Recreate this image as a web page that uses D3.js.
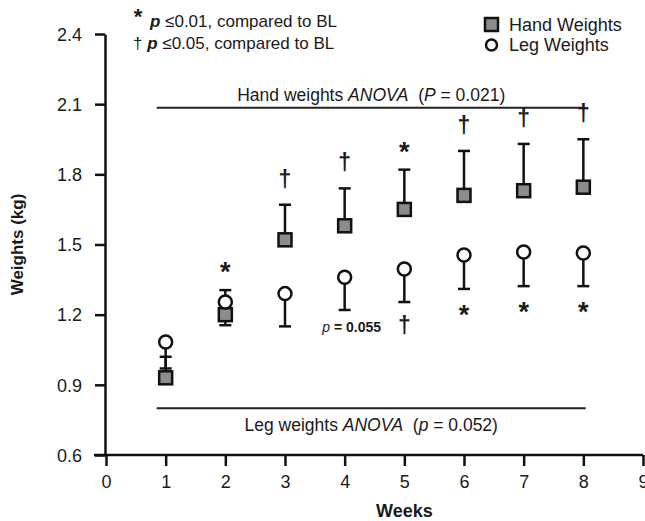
<!DOCTYPE html>
<meta charset="utf-8">
<style>
  body { margin: 0; background: #fff; }
  text { font-family: "Liberation Sans", Arial, sans-serif; fill: #1a1a1a; white-space: pre; }
  .axis text { font-size: 18px; }
  .axis path, .axis line { stroke: #111; stroke-width: 2.5px; }
  .sig { font-weight: bold; text-anchor: middle; }
</style>
<svg width="645" height="521"></svg>
<script src="https://d3js.org/d3.v7.min.js"></script>
<script>
  // data
  var weeks = [1, 2, 3, 4, 5, 6, 7, 8];
  var handMean = [0.93, 1.20, 1.52, 1.58, 1.65, 1.71, 1.73, 1.745];
  var handUpper = [1.02, 1.305, 1.67, 1.74, 1.82, 1.90, 1.93, 1.95];
  var legMean = [1.083, 1.254, 1.29, 1.36, 1.395, 1.455, 1.468, 1.464];
  var legLower = [0.97, 1.155, 1.15, 1.22, 1.254, 1.31, 1.322, 1.322];
  var handSig = ["", "*", "\u2020", "\u2020", "*", "\u2020", "\u2020", "\u2020"];
  var legSig = ["", "", "", "", "\u2020", "*", "*", "*"];
  var yTicks = [0.6, 0.9, 1.2, 1.5, 1.8, 2.1, 2.4];
  var xTicks = [0, 1, 2, 3, 4, 5, 6, 7, 8, 9];
  var anovaHandY = 2.085, anovaLegY = 0.80, anovaX = [0.85, 8.04];

  var svg = d3.select("svg");
  var x = d3.scaleLinear().domain([0, 9]).range([106, 643]);
  var y = d3.scaleLinear().domain([0.6, 2.4]).range([455, 34]);

  // axes
  svg.append("g").attr("class", "axis")
    .attr("transform", "translate(105,0)")
    .call(d3.axisLeft(y).tickValues(yTicks).tickFormat(d3.format(".1f")).tickSize(10).tickSizeOuter(0).tickPadding(13))
    .call(function (g) { g.selectAll("text").attr("dy", "0.35em"); });

  svg.append("g").attr("class", "axis")
    .attr("transform", "translate(0,455)")
    .call(d3.axisBottom(x).tickValues(xTicks).tickSize(11).tickSizeOuter(0).tickPadding(9))
    .call(function (g) { g.select(".domain").attr("d", "M94,0H643"); });

  svg.append("text").attr("x", x(5)).attr("y", 517)
    .attr("text-anchor", "middle").style("font-size", "18px").style("font-weight", "bold").text("Weeks");
  svg.append("text").attr("transform", "translate(23," + y(1.5) + ") rotate(-90)")
    .attr("text-anchor", "middle").style("font-size", "17px").style("font-weight", "bold").text("Weights (kg)");

  // ANOVA lines
  [anovaHandY, anovaLegY].forEach(function (v) {
    svg.append("line").attr("x1", x(anovaX[0])).attr("x2", x(anovaX[1]))
      .attr("y1", y(v)).attr("y2", y(v)).attr("stroke", "#222").attr("stroke-width", 2);
  });
  var t1 = svg.append("text").attr("x", (x(anovaX[0]) + x(anovaX[1])) / 2).attr("y", y(anovaHandY) - 7)
    .attr("text-anchor", "middle").style("font-size", "17.5px");
  t1.append("tspan").text("Hand weights ");
  t1.append("tspan").style("font-style", "italic").text("ANOVA");
  t1.append("tspan").text("  (");
  t1.append("tspan").style("font-style", "italic").text("P");
  t1.append("tspan").text(" = 0.021)");

  var t2 = svg.append("text").attr("x", (x(anovaX[0]) + x(anovaX[1])) / 2).attr("y", y(anovaLegY) + 23)
    .attr("text-anchor", "middle").style("font-size", "17.5px");
  t2.append("tspan").text("Leg weights ");
  t2.append("tspan").style("font-style", "italic").text("ANOVA");
  t2.append("tspan").text("  (");
  t2.append("tspan").style("font-style", "italic").text("p");
  t2.append("tspan").text(" = 0.052)");

  // error bars
  var cap = 6;
  weeks.forEach(function (w, i) {
    var cx = x(w);
    svg.append("line").attr("x1", cx).attr("x2", cx).attr("y1", y(handMean[i])).attr("y2", y(handUpper[i]))
      .attr("stroke", "#111").attr("stroke-width", 2.5);
    svg.append("line").attr("x1", cx - cap).attr("x2", cx + cap).attr("y1", y(handUpper[i])).attr("y2", y(handUpper[i]))
      .attr("stroke", "#111").attr("stroke-width", 2.5);
    svg.append("line").attr("x1", cx).attr("x2", cx).attr("y1", y(legMean[i])).attr("y2", y(legLower[i]))
      .attr("stroke", "#111").attr("stroke-width", 2.5);
    svg.append("line").attr("x1", cx - cap).attr("x2", cx + cap).attr("y1", y(legLower[i])).attr("y2", y(legLower[i]))
      .attr("stroke", "#111").attr("stroke-width", 2.5);
  });

  // markers
  svg.selectAll("rect.hand").data(weeks).enter().append("rect").attr("class", "hand")
    .attr("x", function (d) { return x(d) - 6.5; })
    .attr("y", function (d, i) { return y(handMean[i]) - 6.5; })
    .attr("width", 13).attr("height", 13)
    .attr("fill", "#8c8c8c").attr("stroke", "#111").attr("stroke-width", 2.5);

  svg.selectAll("circle.leg").data(weeks).enter().append("circle").attr("class", "leg")
    .attr("cx", function (d) { return x(d); })
    .attr("cy", function (d, i) { return y(legMean[i]); })
    .attr("r", 6.5).attr("fill", "#fff").attr("stroke", "#111").attr("stroke-width", 2.5);

  // significance marks
  function sigSize(s) { return s === "*" ? "27px" : "23px"; }
  svg.selectAll("text.hs").data(weeks).enter().append("text").attr("class", "sig hs")
    .attr("x", function (d) { return x(d); })
    .attr("y", function (d, i) { return y(handUpper[i]) - (handSig[i] === "*" ? 9 : 18); })
    .style("font-size", function (d, i) { return sigSize(handSig[i]); })
    .text(function (d, i) { return handSig[i]; });

  svg.selectAll("text.ls").data(weeks).enter().append("text").attr("class", "sig ls")
    .attr("x", function (d) { return x(d); })
    .attr("y", function (d, i) { return y(legLower[i]) + (legSig[i] === "*" ? 35 : 31); })
    .style("font-size", function (d, i) { return sigSize(legSig[i]); })
    .text(function (d, i) { return legSig[i]; });

  var pt = svg.append("text").attr("x", 381).attr("y", 332).attr("text-anchor", "end").style("font-size", "14px");
  pt.append("tspan").style("font-style", "italic").text("p");
  pt.append("tspan").style("font-weight", "bold").text(" = 0.055");

  // footnote key
  svg.append("text").attr("x", 138).attr("y", 24).attr("text-anchor", "middle")
    .style("font-size", "22px").style("font-weight", "bold").text("*");
  var f1 = svg.append("text").attr("x", 150).attr("y", 27).style("font-size", "17px");
  f1.append("tspan").style("font-weight", "bold").style("font-style", "italic").text("p");
  f1.append("tspan").text(" \u22640.01, compared to BL");
  var f2 = svg.append("text").attr("x", 133).attr("y", 49).style("font-size", "17px");
  f2.append("tspan").text("\u2020 ");
  f2.append("tspan").style("font-weight", "bold").style("font-style", "italic").text("p");
  f2.append("tspan").text(" \u22640.05, compared to BL");

  // legend
  svg.append("rect").attr("x", 485).attr("y", 18).attr("width", 13).attr("height", 13)
    .attr("fill", "#8c8c8c").attr("stroke", "#111").attr("stroke-width", 2.5);
  svg.append("text").attr("x", 509).attr("y", 31).style("font-size", "18px").text("Hand Weights");
  svg.append("circle").attr("cx", 491.5).attr("cy", 45).attr("r", 5.5)
    .attr("fill", "#fff").attr("stroke", "#111").attr("stroke-width", 2.5);
  svg.append("text").attr("x", 509).attr("y", 51).style("font-size", "18px").text("Leg Weights");
</script>
